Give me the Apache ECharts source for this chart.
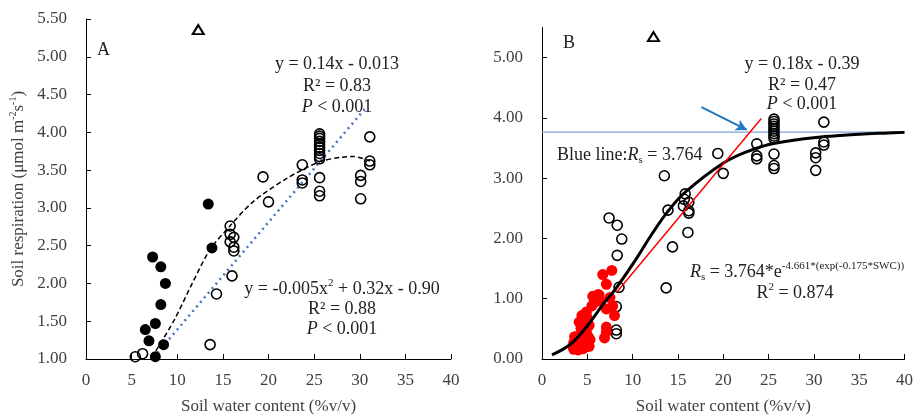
<!DOCTYPE html>
<html>
<head>
<meta charset="utf-8">
<script src="https://cdn.jsdelivr.net/npm/echarts@6/dist/echarts.min.js"></script>
<style>
  html, body { margin: 0; padding: 0; background: #fff; }
  #main { width: 916px; height: 420px; }
</style>
</head>
<body>
<div id="main"></div>
<script>
// ---- data ----
const xTicks = [0, 5, 10, 15, 20, 25, 30, 35, 40];
const yTicksB = [0, 1, 2, 3, 4, 5];

// panel A
const aFilled = [[13.4,3.05],[13.8,2.47],[7.3,2.35],[8.2,2.22],[8.7,2.00],[8.2,1.72],[7.6,1.47],[6.5,1.39],[6.9,1.24],[8.5,1.19],[7.6,1.03]];
const aOpen = [[5.4,1.03],[6.2,1.07],[13.6,1.19],[14.3,1.86],[16.0,2.10],[15.8,2.76],[15.8,2.65],[16.2,2.61],[15.8,2.55],[16.2,2.48],[16.2,2.43],
  [19.4,3.41],[20.0,3.08],[23.7,3.57],[23.7,3.37],[23.7,3.33],
  [25.6,3.98],[25.6,3.95],[25.6,3.92],[25.6,3.88],[25.6,3.84],[25.6,3.80],[25.6,3.76],[25.6,3.72],[25.6,3.68],[25.6,3.65],[25.6,3.40],[25.6,3.22],[25.6,3.16],
  [30.1,3.43],[30.1,3.35],[30.1,3.12],[31.1,3.94],[31.1,3.62],[31.1,3.57]];
const aQuadX = [7.2, 9.6, 11.6, 13.6, 15.7, 18.3, 22.0, 25.6, 28.0, 29.3, 31.1];
const aQuadY = [1.02, 1.50, 1.99, 2.45, 2.75, 3.08, 3.39, 3.61, 3.67, 3.68, 3.62];
const aLinX = [7.4, 30.7];
const aLinY = [1.02, 4.33];
const aTri = [[12.3, 5.36]];

// panel B
const bOpen = [[7.4,2.34],[8.3,2.22],[8.8,1.99],[8.3,1.72],[8.5,1.19],[8.2,0.87],[8.2,0.48],[8.2,0.42],
  [13.5,3.04],[13.9,2.47],[13.7,1.18],[14.4,1.86],[16.1,2.10],[15.8,2.74],[15.7,2.65],[16.2,2.60],[15.6,2.54],[16.2,2.46],[16.2,2.42],
  [19.4,3.41],[20.0,3.08],[23.7,3.57],[23.7,3.37],[23.7,3.32],
  [25.6,3.98],[25.6,3.94],[25.6,3.90],[25.6,3.86],[25.6,3.82],[25.6,3.78],[25.6,3.74],[25.6,3.70],[25.6,3.66],[25.6,3.40],[25.6,3.21],[25.6,3.16],
  [30.2,3.42],[30.2,3.34],[30.2,3.13],[31.1,3.93],[31.1,3.60],[31.1,3.55]];
const bRed = [[7.7,1.47],[6.7,1.40],[7.1,1.24],[5.6,1.04],[6.2,1.07],[7.5,1.02],[5.8,0.94],[6.5,0.96],[7.8,0.88],[7.1,0.83],[8.0,0.72],
  [4.9,0.78],[4.4,0.72],[4.7,0.64],[4.1,0.61],[5.2,0.56],[4.3,0.51],[7.1,0.53],[7.1,0.45],[6.9,0.35],[4.9,0.45],[3.6,0.37],[4.5,0.35],
  [5.3,0.32],[3.5,0.27],[4.2,0.24],[4.9,0.20],[3.5,0.16],[4.0,0.15],[4.5,0.17],[5.8,1.03],[6.3,1.06],[4.9,0.59],[3.8,0.37],[3.5,0.19],
  [5.1,0.37],[5.2,0.21],[5.0,0.68],[4.6,0.42],[5.5,0.88],[3.9,0.30]];
const bCurveX = [1.1, 3.1, 4.9, 6.75, 8.2, 10.4, 12.2, 14.0, 15.9, 19.9, 22.8, 25.7, 31.2, 35.0, 38.2, 40.0];
const bCurveY = [0.07, 0.24, 0.53, 0.91, 1.18, 1.66, 2.09, 2.47, 2.78, 3.24, 3.45, 3.58, 3.69, 3.73, 3.75, 3.76];
const bLinX = [8.2, 24.2];
const bLinY = [1.10, 3.99];
const bBlueX = [0, 40];
const bBlueY = [3.764, 3.764];
const arrowFrom = [17.6, 4.18];
const arrowTo = [22.6, 3.80];
const bTri = [[12.3, 5.35]];

const zip = (xs, ys) => xs.map((x, i) => [x, ys[i]]);

const FONT = '"Liberation Serif", "Times New Roman", serif';
const grey = '#404040';

function xAxisCfg(gi) {
  return {
    type: 'value', gridIndex: gi, min: 0, max: 40, interval: 5,
    name: 'Soil water content (%v/v)', nameLocation: 'middle', nameGap: 39,
    nameTextStyle: { fontFamily: FONT, fontSize: 17, color: grey },
    axisLine: { lineStyle: { color: '#000', width: 1 } },
    axisTick: { inside: true, length: 5, lineStyle: { color: '#000' } },
    axisLabel: { fontFamily: FONT, fontSize: 17, color: grey, margin: 13 },
    splitLine: { show: false }
  };
}

const option = {
  animation: false,
  backgroundColor: '#fff',
  grid: [
    { left: 86, top: 19, width: 365, height: 342.7 },
    { left: 542, top: 27.5, width: 365, height: 342.5 }
  ],
  xAxis: [xAxisCfg(0), xAxisCfg(1)],
  yAxis: [
    {
      type: 'value', gridIndex: 0, min: 1, max: 5.5, interval: 0.5,
      name: 'Soil respiration (μmol m{sup|-2}s{sup|-1})', nameLocation: 'middle', nameGap: 56,
      nameTextStyle: { fontFamily: FONT, fontSize: 17, color: grey,
        rich: { sup: { fontFamily: FONT, fontSize: 10, color: grey, verticalAlign: 'top', lineHeight: 22 } } },
      axisLine: { show: true, lineStyle: { color: '#000', width: 1 } },
      axisTick: { show: true, inside: true, length: 5, lineStyle: { color: '#000' } },
      axisLabel: { fontFamily: FONT, fontSize: 17, color: grey, margin: 19, formatter: v => v.toFixed(2) },
      splitLine: { show: false }
    },
    {
      type: 'value', gridIndex: 1, min: 0, max: 5.5,
      axisLine: { show: true, lineStyle: { color: '#000', width: 1 } },
      axisTick: { show: true, inside: true, length: 5, lineStyle: { color: '#000' }, customValues: yTicksB },
      axisLabel: { fontFamily: FONT, fontSize: 17, color: grey, margin: 19, customValues: yTicksB, formatter: v => v.toFixed(2) },
      splitLine: { show: false }
    }
  ],
  series: [
    // ---- A ----
    { type: 'line', xAxisIndex: 0, yAxisIndex: 0, data: zip(aLinX, aLinY), symbol: 'none',
      lineStyle: { color: '#4472C4', width: 2.5, type: [2, 4] }, z: 2 },
    { type: 'line', xAxisIndex: 0, yAxisIndex: 0, data: zip(aQuadX, aQuadY), symbol: 'none', smooth: 0.3,
      lineStyle: { color: '#000', width: 1.5, type: [5, 3] }, z: 2 },
    { type: 'scatter', xAxisIndex: 0, yAxisIndex: 0, data: aOpen, symbol: 'circle', symbolSize: 10,
      itemStyle: { color: 'rgba(255,255,255,0)', borderColor: '#000', borderWidth: 1.6, opacity: 1 }, z: 3 },
    { type: 'scatter', xAxisIndex: 0, yAxisIndex: 0, data: aFilled, symbol: 'circle', symbolSize: 11,
      itemStyle: { color: '#000', opacity: 1 }, z: 3 },
    { type: 'scatter', xAxisIndex: 0, yAxisIndex: 0, data: aTri, symbol: 'triangle', symbolSize: [11, 9],
      itemStyle: { color: '#fff', borderColor: '#000', borderWidth: 2, opacity: 1 }, z: 3 },
    // ---- B ----
    { type: 'line', xAxisIndex: 1, yAxisIndex: 1, data: zip(bBlueX, bBlueY), symbol: 'none',
      lineStyle: { color: '#7FA3D8', width: 1.2 }, z: 2,
      markLine: {
        silent: true, symbol: ['none', 'arrow'], symbolSize: [9, 11],
        lineStyle: { color: '#1F77C4', width: 2, type: 'solid' }, label: { show: false },
        data: [[{ coord: arrowFrom }, { coord: arrowTo }]]
      } },
    { type: 'scatter', xAxisIndex: 1, yAxisIndex: 1, data: bOpen, symbol: 'circle', symbolSize: 10,
      itemStyle: { color: 'rgba(255,255,255,0)', borderColor: '#000', borderWidth: 1.6, opacity: 1 }, z: 3 },
    { type: 'scatter', xAxisIndex: 1, yAxisIndex: 1, data: bRed, symbol: 'circle', symbolSize: 11,
      itemStyle: { color: '#FF0000', opacity: 1 }, z: 3 },
    { type: 'line', xAxisIndex: 1, yAxisIndex: 1, data: zip(bCurveX, bCurveY), symbol: 'none', smooth: 0.4,
      lineStyle: { color: '#000', width: 3 }, z: 4 },
    { type: 'line', xAxisIndex: 1, yAxisIndex: 1, data: zip(bLinX, bLinY), symbol: 'none',
      lineStyle: { color: '#FF0000', width: 1.5 }, z: 4 },
    { type: 'scatter', xAxisIndex: 1, yAxisIndex: 1, data: bTri, symbol: 'triangle', symbolSize: [11, 9],
      itemStyle: { color: '#fff', borderColor: '#000', borderWidth: 2, opacity: 1 }, z: 3 }
  ],
  graphic: []
};

// annotation text
const rich = {
  i: { fontFamily: FONT, fontSize: 18, fontStyle: 'italic', fill: '#222' },
  sub: { fontFamily: FONT, fontSize: 11, fill: '#222', verticalAlign: 'bottom', lineHeight: 22 },
  sup: { fontFamily: FONT, fontSize: 11, fill: '#222', verticalAlign: 'top', lineHeight: 22 }
};
function txt(x, y, text, align, size) {
  option.graphic.push({
    type: 'text', x: x, y: y, z: 10,
    style: { text: text, fill: '#222', font: (size || 18) + 'px ' + FONT,
      textAlign: align || 'center', textVerticalAlign: 'middle', rich: rich }
  });
}
txt(97, 50, 'A', 'left');
txt(337, 64, 'y = 0.14x - 0.013');
txt(337, 86, 'R² = 0.83');
txt(337, 107, '{i|P} < 0.001');
txt(342, 289, 'y = -0.005x{sup|2} + 0.32x - 0.90');
txt(342, 309, 'R² = 0.88');
txt(342, 329, '{i|P} < 0.001');

txt(563, 43, 'B', 'left');
txt(802, 64, 'y = 0.18x - 0.39');
txt(802, 85, 'R² = 0.47');
txt(802, 104, '{i|P} < 0.001');
txt(557, 155, 'Blue line:{i|R}{sub|s} = 3.764', 'left');
txt(797, 272, '{i|R}{sub|s} = 3.764*e{sup|-4.661*(exp(-0.175*SWC))}');
txt(795, 293, 'R{sup|2} = 0.874');

const chart = echarts.init(document.getElementById('main'), null, { renderer: 'canvas' });
chart.setOption(option);
</script>
</body>
</html>
